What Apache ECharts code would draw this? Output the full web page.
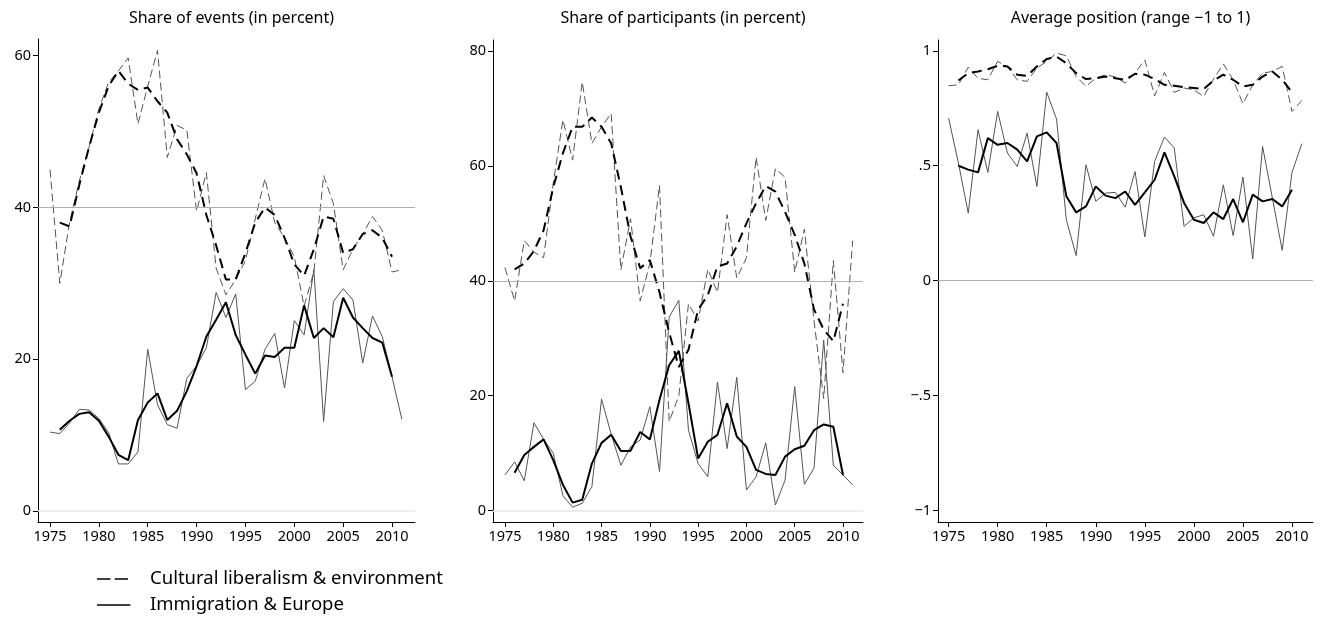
<!DOCTYPE html>
<html>
<head>
<meta charset="utf-8">
<script src="https://cdn.jsdelivr.net/npm/echarts@6/dist/echarts.min.js"></script>
<style>
html,body{margin:0;padding:0;background:#fff;}
#chart{width:1325px;height:618px;}
</style>
</head>
<body>
<div id="chart"></div>
<script>
// ---------- DATA ----------
const years = [1975,1976,1977,1978,1979,1980,1981,1982,1983,1984,1985,1986,1987,1988,1989,1990,1991,1992,1993,1994,1995,1996,1997,1998,1999,2000,2001,2002,2003,2004,2005,2006,2007,2008,2009,2010,2011];
const smoothYears = [1976,1977,1978,1979,1980,1981,1982,1983,1984,1985,1986,1987,1988,1989,1990,1991,1992,1993,1994,1995,1996,1997,1998,1999,2000,2001,2002,2003,2004,2005,2006,2007,2008,2009,2010];
const xTicks = [1975,1980,1985,1990,1995,2000,2005,2010];

// Panel 1: share of events
const eventsCultRaw = [45,30,38,43.5,48,53,56.5,58,59.7,51,56,60.7,46.6,50.8,50.2,39.5,44.6,32,28.5,30.5,33,38.5,43.8,38,36,33.5,27,31.5,44.2,40.5,31.8,34.5,36.5,38.8,37,31.5,31.8];
const eventsCultSmooth = [38,37.5,43,48,52.5,56,58,56.3,55.5,55.8,54,52.5,49,47,44.5,39,35,30.5,30.5,34,38,40,39,36,32.5,31,34.5,38.8,38.5,34,34.5,36.5,37,36,33.5];
const eventsImmRaw = [10.4,10.2,11.6,13.4,13.3,12.2,10.3,6.2,6.2,7.8,21.3,14,11.4,10.9,17.5,19.1,21.5,28.8,25.5,28.6,16,17.1,21.3,23.4,16.2,25.1,23.2,31.8,11.8,27.6,29.3,27.8,19.5,25.7,23,17.7,12.1];
const eventsImmSmooth = [10.7,11.9,12.8,13,11.9,9.8,7.4,6.7,12,14.3,15.5,12,13.2,15.8,19.1,23,25.2,27.5,23.2,20.6,18.1,20.5,20.3,21.5,21.5,27.1,22.8,24.1,22.9,28.1,25.5,24.1,22.8,22.2,17.7];
const eventsTicks = [0,20,40,60];

// Panel 2: share of participants
const partCultRaw = [42.3,36.5,47,45,44,57,68,61,74.6,63.9,66.8,69.1,41.9,50.8,36.5,43,56.6,15.5,20,36,33,42,38,51.5,40.5,44,61.5,50.5,59.5,58,41.5,49,33,19.5,43.5,24,47];
const partCultSmooth = [42,43,45.2,48.8,56.3,62.2,66.8,66.8,68.4,66.8,63.9,56.3,47.7,42.2,43.6,38,31,25,28,35,37.5,42.5,43,46,50,53.5,56.5,55.5,52,48,43,35,31.5,29.5,36];
const partImmRaw = [6.2,8.5,5.2,15.3,12.4,10,2.6,0.6,1.3,4.2,19.4,13.3,7.9,11.1,12.3,18.1,6.8,33.7,36.6,14,8.2,5.9,22.4,10.8,23.2,3.6,5.9,11.8,1,5.3,21.6,4.6,7.4,29.7,7.9,6.2,4.5];
const partImmSmooth = [6.6,9.7,11.1,12.4,8.8,4.5,1.4,1.9,8.2,11.8,13.2,10.4,10.4,13.7,12.4,19.3,25.3,27.8,18.7,9.1,12,13.2,18.7,12.9,11.1,7.1,6.4,6.2,9.4,10.7,11.3,14,15,14.6,6.2];
const partTicks = [0,20,40,60,80];

// Panel 3: average position
const posCultRaw = [0.848,0.852,0.929,0.88,0.874,0.954,0.93,0.874,0.867,0.925,0.954,0.99,0.978,0.888,0.845,0.881,0.896,0.886,0.86,0.903,0.961,0.804,0.906,0.819,0.838,0.83,0.801,0.877,0.943,0.874,0.77,0.852,0.903,0.91,0.932,0.736,0.784];
const posCultSmooth = [0.871,0.903,0.91,0.92,0.935,0.932,0.896,0.891,0.932,0.964,0.975,0.946,0.903,0.877,0.881,0.888,0.881,0.874,0.9,0.896,0.877,0.852,0.848,0.842,0.838,0.833,0.871,0.896,0.874,0.845,0.852,0.888,0.91,0.874,0.82];
const posImmRaw = [0.707,0.512,0.294,0.657,0.471,0.736,0.555,0.497,0.642,0.41,0.82,0.703,0.265,0.109,0.504,0.345,0.381,0.384,0.32,0.475,0.19,0.519,0.625,0.577,0.236,0.273,0.287,0.193,0.417,0.196,0.451,0.094,0.584,0.359,0.132,0.471,0.596];
const posImmSmooth = [0.5,0.483,0.471,0.62,0.591,0.599,0.57,0.519,0.628,0.645,0.599,0.367,0.297,0.323,0.41,0.37,0.359,0.388,0.33,0.384,0.439,0.558,0.454,0.338,0.265,0.251,0.297,0.268,0.355,0.254,0.374,0.345,0.355,0.323,0.396];
const posTicks = [-1,-0.5,0,0.5,1];
const posTickLabels = ['\u22121','\u2212.5','0','.5','1'];

const titles = ['Share of events (in percent)','Share of participants (in percent)','Average position (range \u22121 to 1)'];
const legendNames = ['Cultural liberalism & environment','Immigration & Europe'];

// ---------- CHART ----------
const FONT = 'Noto Sans';
const pair = (xs, ys) => ys.map((v, i) => [xs[i], v]);

const panels = [
  {grid:{left:38,top:39,width:377,height:483}, xmin:1973.77, xmax:2012.35, ymin:-1.45, ymax:62.2, ticks:eventsTicks, fmt:v=>String(v),
   cr:eventsCultRaw, cs:eventsCultSmooth, ir:eventsImmRaw, is:eventsImmSmooth, ref:40},
  {grid:{left:493,top:40,width:370,height:482}, xmin:1973.76, xmax:2012.07, ymin:-1.97, ymax:81.9, ticks:partTicks, fmt:v=>String(v),
   cr:partCultRaw, cs:partCultSmooth, ir:partImmRaw, is:partImmSmooth, ref:40},
  {grid:{left:938,top:40,width:375,height:482}, xmin:1973.92, xmax:2012.14, ymin:-1.05, ymax:1.047, ticks:posTicks,
   fmt:v=>{const k=posTicks.findIndex(t=>Math.abs(t-v)<1e-9); return k>=0?posTickLabels[k]:String(v);},
   cr:posCultRaw, cs:posCultSmooth, ir:posImmRaw, is:posImmSmooth, ref:0}
];

const legendIcons = [
  'path://M0 9.2H13.4V10.8H0Z M17.7 9.2H31V10.8H17.7Z M0 0L0 0Z M48 20L48 20Z',
  'path://M0 9.2H33.4V10.8H0Z M0 0L0 0Z M48 20L48 20Z'
];
const legendTops = [564, 590];

const option = {
  animation:false,
  backgroundColor:'#fff',
  textStyle:{fontFamily:FONT},
  title: panels.map((p,i)=>({
    text:titles[i], left:p.grid.left + p.grid.width/2, top:5, textAlign:'center',
    textStyle:{fontFamily:FONT,fontSize:16,fontWeight:'normal',color:'#000'}
  })),
  legend: legendNames.map((n,i)=>({
    data:[{name:n, icon:legendIcons[i]}], orient:'horizontal', left:92, top:legendTops[i],
    itemWidth:48, itemHeight:20, symbolKeepAspect:true,
    itemStyle:{borderWidth:0, color:'#000'}, selectedMode:false,
    textStyle:{fontFamily:FONT,fontSize:18.5,lineHeight:20,color:'#000'}
  })),
  grid: panels.map(p=>p.grid),
  xAxis: panels.map((p,i)=>({
    type:'value', gridIndex:i, min:p.xmin, max:p.xmax,
    axisLine:{show:true,onZero:false,lineStyle:{color:'#000',width:1}},
    axisTick:{show:true,length:5,customValues:xTicks,lineStyle:{color:'#000'}},
    axisLabel:{customValues:xTicks,color:'#000',fontSize:14.5,fontFamily:FONT,margin:7,formatter:v=>String(v)},
    splitLine:{show:false}
  })),
  yAxis: panels.map((p,i)=>({
    type:'value', gridIndex:i, min:p.ymin, max:p.ymax,
    axisLine:{show:true,onZero:false,lineStyle:{color:'#000',width:1}},
    axisTick:{show:true,length:5,customValues:p.ticks,lineStyle:{color:'#000'}},
    axisLabel:{customValues:p.ticks,color:'#000',fontSize:14.5,fontFamily:FONT,margin:7,formatter:p.fmt},
    splitLine:{show:false}
  })),
  series: []
};

panels.forEach((p,i)=>{
  const marks = [{yAxis:p.ref, lineStyle:{color:'#b0b0b0',width:1,type:'solid'}}];
  if (p.ref !== 0) marks.push({yAxis:0, lineStyle:{color:'#e6e6e6',width:1.5,type:'solid'}});
  option.series.push({
    type:'line', name:'cultRaw'+i, xAxisIndex:i, yAxisIndex:i, data:pair(years,p.cr),
    symbol:'none', itemStyle:{color:'#555'}, lineStyle:{color:'#555',width:1,type:[8,4]}, z:2,
    markLine:{silent:true,symbol:'none',label:{show:false},data:marks}
  });
  option.series.push({
    type:'line', name:'immRaw'+i, xAxisIndex:i, yAxisIndex:i, data:pair(years,p.ir),
    symbol:'none', itemStyle:{color:'#555'}, lineStyle:{color:'#555',width:1,type:'solid'}, z:2
  });
  option.series.push({
    type:'line', name:legendNames[0], xAxisIndex:i, yAxisIndex:i, data:pair(smoothYears,p.cs),
    symbol:'none', itemStyle:{color:'#000'}, lineStyle:{color:'#000',width:2,type:[10,6]}, z:3
  });
  option.series.push({
    type:'line', name:legendNames[1], xAxisIndex:i, yAxisIndex:i, data:pair(smoothYears,p.is),
    symbol:'none', itemStyle:{color:'#000'}, lineStyle:{color:'#000',width:2,type:'solid'}, z:3
  });
});

const chart = echarts.init(document.getElementById('chart'), null, {renderer:'canvas'});
chart.setOption(option);
</script>
</body>
</html>
